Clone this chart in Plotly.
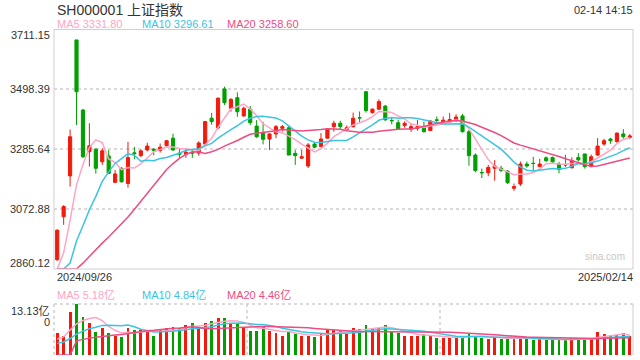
import plotly.graph_objects as go

dates = ["2024/09/26","2024/09/27","2024/09/30",
 "2024/10/08","2024/10/09","2024/10/10","2024/10/11","2024/10/14","2024/10/15","2024/10/16","2024/10/17","2024/10/18",
 "2024/10/21","2024/10/22","2024/10/23","2024/10/24","2024/10/25","2024/10/28","2024/10/29","2024/10/30","2024/10/31",
 "2024/11/01","2024/11/04","2024/11/05","2024/11/06","2024/11/07","2024/11/08","2024/11/11","2024/11/12","2024/11/13",
 "2024/11/14","2024/11/15","2024/11/18","2024/11/19","2024/11/20","2024/11/21","2024/11/22","2024/11/25","2024/11/26",
 "2024/11/27","2024/11/28","2024/11/29",
 "2024/12/02","2024/12/03","2024/12/04","2024/12/05","2024/12/06","2024/12/09","2024/12/10","2024/12/11","2024/12/12",
 "2024/12/13","2024/12/16","2024/12/17","2024/12/18","2024/12/19","2024/12/20","2024/12/23","2024/12/24","2024/12/25",
 "2024/12/26","2024/12/27","2024/12/30","2024/12/31",
 "2025/01/02","2025/01/03","2025/01/06","2025/01/07","2025/01/08","2025/01/09","2025/01/10","2025/01/13","2025/01/14",
 "2025/01/15","2025/01/16","2025/01/17","2025/01/20","2025/01/21","2025/01/22","2025/01/23","2025/01/24","2025/01/27",
 "2025/02/05","2025/02/06","2025/02/07","2025/02/10","2025/02/11","2025/02/12","2025/02/13","2025/02/14"]

opens = [2893,3046,3191,3674,3425,3277,3286,3241,3262,3168,3218,3164,3273,3263,3283,3286,3281,3298,3325,3272,
         3268,3274,3272,3304,3396,3362,3500,3431,3469,3404,3428,3368,3344,3322,3340,3360,3362,3271,3254,3226,
         3304,3295,3325,3366,3378,3356,3366,3398,3490,3416,3428,3439,3388,3380,3370,3357,3360,3366,3352,3390,
         3383,3385,3390,3404,3348,3265,3203,3202,3218,3218,3208,3147,3162,3233,3236,3224,3255,3256,3233,3231,
         3220,3256,3269,3224,3265,3304,3322,3313,3340,3328]
highs = [3001,3087,3356,3674,3429,3378,3289,3289,3283,3212,3222,3312,3294,3285,3309,3290,3306,3318,3341,3288,
         3288,3285,3314,3386,3415,3470,3508,3467,3488,3437,3439,3389,3383,3342,3372,3372,3370,3283,3283,3308,
         3309,3343,3361,3387,3387,3370,3416,3420,3493,3431,3463,3443,3400,3390,3385,3378,3390,3384,3390,3402,
         3402,3414,3410,3411,3354,3271,3217,3230,3247,3227,3212,3164,3242,3242,3259,3252,3260,3260,3241,3266,
         3257,3272,3269,3267,3325,3323,3326,3345,3357,3340]
lows = [2889,3017,3153,3372,3254,3224,3199,3230,3199,3167,3167,3149,3250,3258,3278,3264,3274,3295,3280,3253,
        3255,3255,3263,3300,3373,3357,3443,3419,3401,3401,3372,3326,3303,3283,3325,3349,3265,3230,3251,3219,
        3290,3293,3324,3348,3357,3352,3362,3380,3416,3412,3426,3387,3374,3355,3362,3347,3352,3345,3352,3374,
        3377,3377,3383,3345,3227,3204,3183,3190,3174,3205,3162,3138,3155,3220,3208,3222,3240,3237,3200,3223,
        3217,3242,3217,3222,3262,3298,3305,3309,3323,3322]
closes = [2998,3082,3330,3490,3259,3298,3218,3280,3200,3198,3170,3256,3270,3280,3297,3281,3293,3316,3283,3268,
          3275,3272,3308,3384,3384,3467,3451,3463,3419,3431,3380,3330,3321,3340,3366,3366,3265,3263,3259,3301,
          3293,3322,3358,3378,3366,3362,3396,3397,3423,3428,3455,3390,3387,3358,3378,3366,3366,3348,3386,3389,
          3389,3391,3400,3348,3263,3210,3202,3221,3226,3210,3167,3153,3233,3226,3235,3233,3245,3241,3214,3230,
          3245,3248,3224,3259,3297,3316,3316,3343,3330,3333]
# volume, 亿
volumes = [5.69,4.8,10.98,13.13,9.82,8.23,6.01,6.96,5.69,4.9,4.7,6.96,6.43,6.43,6.43,5.0,6.43,6.85,7.28,6.85,
           7.70,8.34,7.28,8.13,8.76,9.61,9.61,7.91,7.91,6.85,6.22,6.22,7.28,6.22,5.69,5.0,6.01,5.37,4.8,5.0,
           4.6,5.48,6.43,6.43,6.22,5.37,7.07,6.75,7.70,6.75,7.07,7.70,6.01,5.69,4.9,4.8,5.0,5.37,4.8,4.4,
           4.3,4.4,4.6,4.9,5.37,4.9,4.3,4.2,4.7,4.0,4.2,4.1,4.9,4.0,3.9,4.0,3.8,4.1,3.9,3.9,
           4.3,4.0,4.2,4.15,5.85,5.4,5.0,5.1,5.6,4.8]
# closes / volumes of the sessions before the first shown day (for the moving averages)
prior_closes = [2811,2802,2784,2788,2765,2736,2744,2721,2717,2704,2717,2736,2737,2749,2863,2896]
prior_volumes = [2.1,2.0,1.9,2.0,1.9,1.8,1.9,1.8,1.9,1.9,2.0,2.1,2.2,2.2,5.0,5.6]

y_ticks = [2860.12, 3072.88, 3285.64, 3498.39, 3711.15]
y_ticklabels = ["2860.12", "3072.88", "3285.64", "3498.39", "3711.15"]
vol_max = 13.13

RED = "#f21a0c"
GREEN = "#00a000"
C_MA5 = "#ffa5c4"
C_MA10 = "#3cc4e2"
C_MA20 = "#ee4c82"


def moving_average(series, prior, n):
    full = list(prior) + list(series)
    out = []
    for i in range(len(series)):
        j = len(prior) + i
        out.append(sum(full[j - n + 1:j + 1]) / n)
    return out


ymin, ymax = y_ticks[0], y_ticks[-1]
ma_price = {n: [max(v, ymin) for v in moving_average(closes, prior_closes, n)] for n in (5, 10, 20)}
ma_vol = {n: moving_average(volumes, prior_volumes, n) for n in (5, 10, 20)}
bar_colors = [RED if c >= o else GREEN for o, c in zip(opens, closes)]

fig = go.Figure()
fig.add_trace(go.Candlestick(
    x=dates, open=opens, high=highs, low=lows, close=closes,
    increasing=dict(line=dict(color=RED, width=1), fillcolor=RED),
    decreasing=dict(line=dict(color=GREEN, width=1), fillcolor=GREEN),
    whiskerwidth=0, xaxis="x", yaxis="y", showlegend=False, hoverinfo="skip"))
for n, col in ((5, C_MA5), (10, C_MA10), (20, C_MA20)):
    fig.add_trace(go.Scatter(x=dates, y=ma_price[n], mode="lines", line=dict(color=col, width=1.5),
                             xaxis="x", yaxis="y", showlegend=False, hoverinfo="skip"))

fig.add_trace(go.Bar(x=dates, y=volumes, marker=dict(color=bar_colors, line=dict(width=0)), width=0.45,
                     xaxis="x2", yaxis="y2", showlegend=False, hoverinfo="skip"))
for n, col in ((5, C_MA5), (10, C_MA10), (20, C_MA20)):
    fig.add_trace(go.Scatter(x=dates, y=ma_vol[n], mode="lines", line=dict(color=col, width=1.5),
                             xaxis="x2", yaxis="y2", showlegend=False, hoverinfo="skip"))

FW, FH = 640, 360
def py(p):
    return (FH - p) / FH

W0, W1 = 54.0, 633.0
def px(p):
    return (p - W0) / (W1 - W0)

main_dom = [py(269), py(29.5)]
vol_dom = [py(355), py(304)]

FONT = "Liberation Sans, Arial, Noto Sans CJK SC, sans-serif"

fig.update_layout(
    width=FW, height=FH, margin=dict(l=W0, r=FW - W1, t=0, b=0, pad=0),
    paper_bgcolor="white", plot_bgcolor="white",
    font=dict(family=FONT, size=11, color="#333"),
    bargap=0,
    xaxis=dict(domain=[0, 1], type="category", range=[-0.5, len(dates) - 0.5], showticklabels=False,
               showgrid=False, zeroline=False, showline=False, rangeslider=dict(visible=False), fixedrange=True),
    yaxis=dict(domain=main_dom, range=[ymin, ymax], tickvals=y_ticks[1:-1], showticklabels=False,
               showgrid=True, gridcolor="#d9d9d9", griddash="dot", gridwidth=2, zeroline=False, showline=False),
    xaxis2=dict(domain=[0, 1], type="category", range=[-0.5, len(dates) - 0.5], showticklabels=False,
                showgrid=False, zeroline=False, showline=False, anchor="y2", matches="x"),
    yaxis2=dict(domain=vol_dom, range=[0, vol_max], showticklabels=False, showgrid=False, zeroline=False,
                showline=False, anchor="x2"),
)

shapes = [
    dict(type="rect", xref="paper", yref="paper", x0=0, x1=1, y0=main_dom[0], y1=main_dom[1],
         line=dict(color="#cfcfcf", width=1), layer="above"),
    dict(type="line", xref="paper", yref="paper", x0=0, x1=1, y0=vol_dom[1], y1=vol_dom[1],
         line=dict(color="#cfcfcf", width=1.5, dash="dot")),
    dict(type="line", xref="paper", yref="paper", x0=0, x1=0, y0=vol_dom[0], y1=vol_dom[1],
         line=dict(color="#cfcfcf", width=1.5, dash="dot")),
    dict(type="line", xref="paper", yref="paper", x0=1 / 3, x1=1 / 3, y0=vol_dom[0], y1=vol_dom[1],
         line=dict(color="#cfcfcf", width=1.5, dash="dot")),
    dict(type="line", xref="paper", yref="paper", x0=2 / 3, x1=2 / 3, y0=vol_dom[0], y1=vol_dom[1],
         line=dict(color="#cfcfcf", width=1.5, dash="dot")),
    dict(type="line", xref="paper", yref="paper", x0=1, x1=1, y0=vol_dom[0], y1=vol_dom[1],
         line=dict(color="#cfcfcf", width=1)),
]
fig.update_layout(shapes=shapes)

ann = []
def text(x, y, s, color="#333", size=11, xanchor="left", yanchor="middle"):
    ann.append(dict(xref="paper", yref="paper", x=x, y=y, text=s, showarrow=False,
                    xanchor=xanchor, yanchor=yanchor, font=dict(color=color, size=size, family=FONT)))

text(px(55), py(9.5), "SH000001 上证指数", size=14)
text(px(635), py(9.5), "02-14 14:15", xanchor="right")
text(px(55), py(24), f"MA5 {3331.80:.2f}", color=C_MA5)
text(px(140), py(24), f"MA10 {3296.61:.2f}", color=C_MA10)
text(px(225), py(24), f"MA20 {3258.60:.2f}", color=C_MA20)
# price axis labels
for v, lab in zip(y_ticks, y_ticklabels):
    ypix = 269 - (v - ymin) / (ymax - ymin) * (269 - 29.5)
    if v == ymax:
        ypix = 35
    elif v == ymin:
        ypix = 263
    text(px(52), py(ypix), lab, xanchor="right")
text(px(55), py(277), dates[0])
text(px(635), py(277), dates[-1], xanchor="right")
text(px(627), py(256), "sina.com", color="#c8c8c8", size=10, xanchor="right")
# volume legend and labels
text(px(55), py(295), "MA5 5.18亿", color=C_MA5)
text(px(140), py(295), "MA10 4.84亿", color=C_MA10)
text(px(225), py(295), "MA20 4.46亿", color=C_MA20)
text(px(52), py(311), f"{vol_max:.2f}亿", xanchor="right")
text(px(52), py(322), "0", xanchor="right")
fig.update_layout(annotations=ann)

fig.write_html("out.html", config={"displayModeBar": False},
               post_script="document.body.style.margin='0';document.body.style.overflow='hidden';")
